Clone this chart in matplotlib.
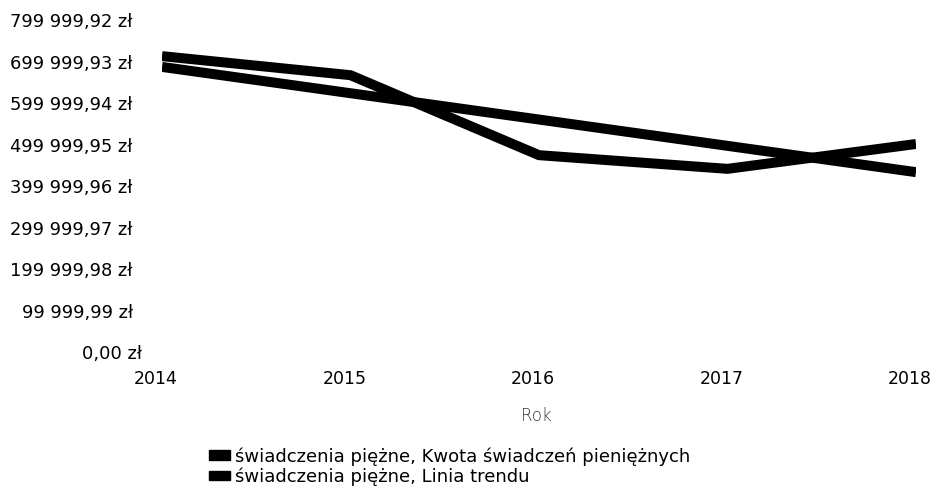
import matplotlib
matplotlib.use('Agg')
import matplotlib.pyplot as plt
from matplotlib.patches import Patch
from matplotlib.transforms import ScaledTranslation

# dane
lata = [2014, 2015, 2016, 2017, 2018]
kwota = [714000, 668000, 475000, 442000, 502000]
trend = [688000, 624500, 561000, 497500, 434000]

krok = 99999.99
y_ticks = [i * krok for i in range(9)]
y_labels = ['0,00 zł', '99 999,99 zł', '199 999,98 zł', '299 999,97 zł',
            '399 999,96 zł', '499 999,95 zł', '599 999,94 zł',
            '699 999,93 zł', '799 999,92 zł']
nazwy = ['świadczenia piężne, Kwota świadczeń pieniężnych',
         'świadczenia piężne, Linia trendu']

plt.rcParams['font.family'] = ['DejaVu Sans']

W, H = 939, 493
fig = plt.figure(figsize=(W / 100, H / 100), dpi=100)
ax = fig.add_axes([162 / W, 1 - 352 / H, (916 - 162) / W, (352 - 20.5) / H])

ax.plot(lata, kwota, color='black', linewidth=7.2, solid_capstyle='butt', solid_joinstyle='miter')
ax.plot(lata, trend, color='black', linewidth=7.2, solid_capstyle='butt')

ax.set_xlim(2014, 2018)
ax.set_ylim(0, 8 * krok)
ax.set_xticks(lata)
ax.set_xticklabels([str(r) for r in lata])
ax.set_yticks(y_ticks)
ax.set_yticklabels(y_labels)
ax.tick_params(axis='both', length=0, colors='black')
ax.tick_params(axis='x', pad=13, labelsize=12.5)
ax.tick_params(axis='y', pad=21, labelsize=12.9)
for s in ax.spines.values():
    s.set_visible(False)

# przesunięcia etykiet jak w oryginale
for lab in ax.get_xticklabels():
    lab.set_transform(lab.get_transform() + ScaledTranslation(-6 / 100, 0, fig.dpi_scale_trans))
lab0 = ax.get_yticklabels()[0]
lab0.set_transform(lab0.get_transform() + ScaledTranslation(9 / 100, 0, fig.dpi_scale_trans))

fig.text(536 / W, 1 - 416 / H, 'Rok', ha='center', va='center', fontsize=12,
         color='#3a3a3a', fontweight='light')

uchwyty = [Patch(facecolor='black', edgecolor='black') for _ in nazwy]
fig.legend(uchwyty, nazwy, loc='upper left', bbox_to_anchor=(209 / W, 1 - 447 / H),
           frameon=False, fontsize=13, borderpad=0, borderaxespad=0,
           handlelength=1.15, handleheight=0.45, handletextpad=0.3, labelspacing=0.1)

fig.savefig('out.png', dpi=100)
